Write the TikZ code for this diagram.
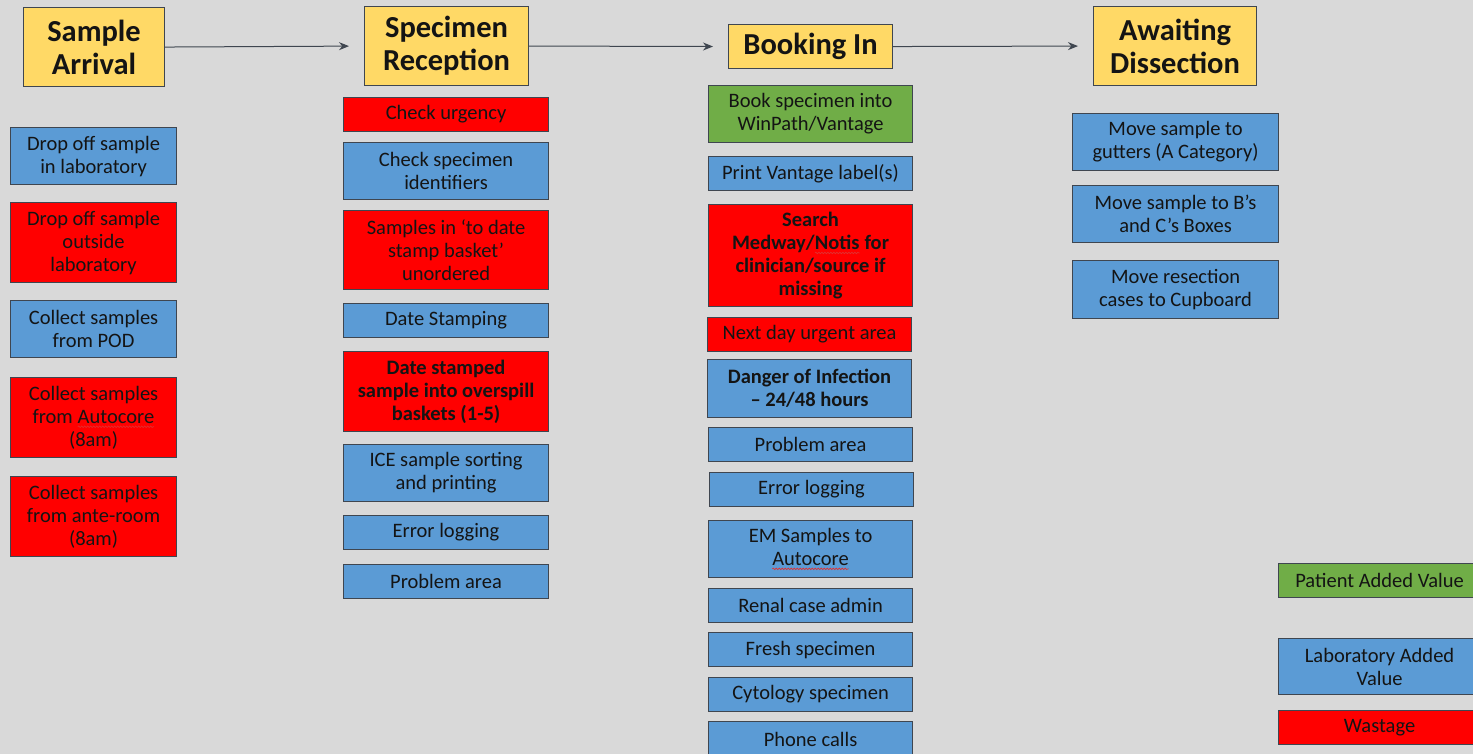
\documentclass[tikz,border=0pt]{standalone}
\usepackage{fontspec}
\setmainfont{Carlito}
\usetikzlibrary{arrows.meta,decorations.pathmorphing}

\definecolor{canvas}{HTML}{D9D9D9}
\definecolor{stagefill}{HTML}{FFD966}
\definecolor{labfill}{HTML}{5B9BD5}
\definecolor{wastefill}{HTML}{FF0000}
\definecolor{patientfill}{HTML}{70AD47}
\definecolor{edge}{HTML}{3F4650}
\definecolor{squiggle}{HTML}{E03030}

% red wavy spell-check style underline under a word
\newcommand\spellmark[1]{%
  \tikz[baseline=(w.base), x=1pt, y=1pt]{%
    \node[draw=none, fill=none, inner sep=0pt, outer sep=0pt,
          minimum width=0pt, minimum height=0pt, anchor=base] (w) {#1};
    \draw[squiggle, line width=0.6pt, decorate,
          decoration={snake, amplitude=0.8pt, segment length=3pt}]
      ([yshift=-3.5pt]w.base west) -- ([yshift=-3.5pt]w.base east);}}

\tikzset{
  x=1pt, y=-1pt,
  cell/.style={draw=edge, line width=1.1pt, inner sep=0pt, align=center,
    text=black!92, font=\fontsize{20.5}{23}\selectfont},
  title/.style={cell, fill=stagefill, font=\fontsize{30.5}{33}\selectfont\bfseries},
  lab/.style={cell, fill=labfill},
  waste/.style={cell, fill=wastefill},
  patient/.style={cell, fill=patientfill},
  strong/.style={font=\fontsize{20.5}{23}\selectfont\bfseries},
  flow/.style={draw=edge, line width=1pt, -{Stealth[length=10pt,width=8pt]}, shorten >=15pt},
}

% box from its corners: name, style, x1, y1, x2, y2, text
\newcommand\bx[7]{%
  \node[#2, minimum width={(#5-#3)*1pt}, minimum height={(#6-#4)*1pt},
        anchor=north west] (#1) at (#3,#4) {#7};}

\begin{document}
\begin{tikzpicture}
\fill[canvas] (0,0) rectangle (1473,754);
\useasboundingbox (0,0) rectangle (1473,754);

% stage headings
\bx{sa}{title}{23}{7}{164}{86}{Sample\\Arrival}
\bx{sr}{title}{364}{6}{528}{85}{Specimen\\Reception}
\bx{bi}{title}{728}{24}{892}{68}{Booking In}
\bx{ad}{title}{1093}{6}{1256}{85}{Awaiting\\Dissection}

\draw[flow] (sa.east) -- (sr.west);
\draw[flow] (sr.east) -- (bi.west);
\draw[flow] (bi.east) -- (ad.west);

% sample arrival
\bx{a1}{lab}{10}{127}{176}{184}{Drop off sample\\in laboratory}
\bx{a2}{waste}{10}{202}{176}{282}{Drop off sample\\outside\\laboratory}
\bx{a3}{lab}{10}{300}{176}{357}{Collect samples\\from POD}
\bx{a4}{waste}{10}{377}{176}{457}{Collect samples\\from \spellmark{Autocore}\\(8am)}
\bx{a5}{waste}{10}{476}{176}{556}{Collect samples\\from ante-room\\(8am)}

% specimen reception
\bx{b1}{waste}{343}{97}{548}{131}{Check urgency}
\bx{b2}{lab}{343}{142}{548}{199}{Check specimen\\identifiers}
\bx{b3}{waste}{343}{210}{548}{289}{Samples in ‘to date\\stamp basket’\\unordered}
\bx{b4}{lab}{343}{303}{548}{337}{Date Stamping}
\bx{b5}{waste,strong}{343}{351}{548}{431}{Date stamped\\sample into overspill\\baskets (1-5)}
\bx{b6}{lab}{343}{444}{548}{501}{ICE sample sorting\\and printing}
\bx{b7}{lab}{343}{515}{548}{549}{Error logging}
\bx{b8}{lab}{343}{564}{548}{598}{Problem area}

% booking in
\bx{c1}{patient}{708}{85}{912}{142}{Book specimen into\\WinPath/Vantage}
\bx{c2}{lab}{708}{156}{912}{190}{Print Vantage label(s)}
\bx{c3}{waste,strong}{708}{204}{912}{306}{Search\\Medway/\spellmark{Notis} for\\clinician/source if\\missing}
\bx{c4}{waste}{707}{317}{911}{351}{Next day urgent area}
\bx{c5}{lab,strong}{707}{359}{911}{417}{Danger of Infection\\– 24/48 hours}
\bx{c6}{lab}{708}{427}{912}{461}{Problem area}
\bx{c7}{lab}{709}{472}{913}{506}{Error logging}
\bx{c8}{lab}{708}{520}{912}{577}{EM Samples to\\\spellmark{Autocore}}
\bx{c9}{lab}{708}{588}{912}{622}{Renal case admin}
\bx{c10}{lab}{708}{632}{912}{666}{Fresh specimen}
\bx{c11}{lab}{708}{677}{912}{711}{Cytology specimen}
\bx{c12}{lab}{708}{721}{912}{756}{Phone calls}

% awaiting dissection
\bx{d1}{lab}{1072}{113}{1278}{170}{Move sample to\\gutters (A Category)}
\bx{d2}{lab}{1072}{185}{1278}{242}{Move sample to B’s\\and C’s Boxes}
\bx{d3}{lab}{1072}{260}{1278}{318}{Move resection\\cases to Cupboard}

% key
\bx{k1}{patient}{1278}{563}{1480}{597}{Patient Added Value}
\bx{k2}{lab}{1278}{638}{1480}{694}{Laboratory Added\\Value}
\bx{k3}{waste}{1278}{710}{1480}{744}{Wastage}
\end{tikzpicture}
\end{document}
